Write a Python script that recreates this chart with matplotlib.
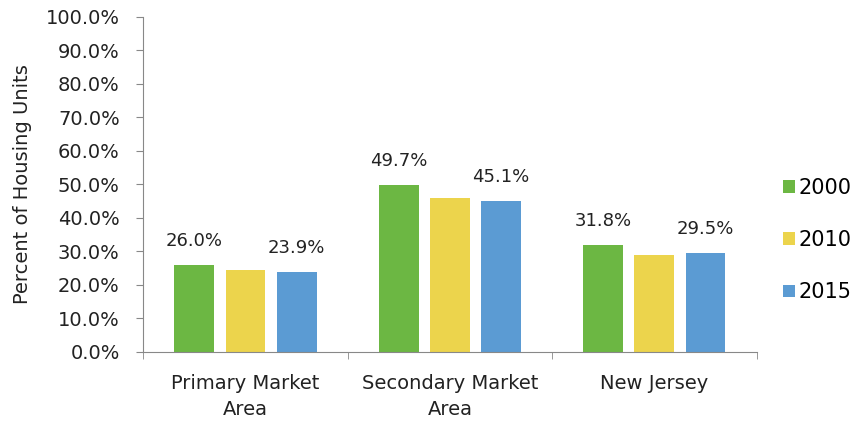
import numpy as np
import matplotlib
matplotlib.use("Agg")
from matplotlib import pyplot as plt

categories = ['Primary Market\nArea', 'Secondary Market\nArea', 'New Jersey']
years = ['2000', '2010', '2015']
v2000 = [26.0, 49.7, 31.8]
v2010 = [24.5, 45.8, 29.0]
v2015 = [23.9, 45.1, 29.5]
colors = ['#6cb743', '#ecd44c', '#5b9bd3']

plt.rcParams['font.family'] = ['DejaVu Sans']

fig = plt.figure(figsize=(8.53, 4.21), dpi=100)
ax = fig.add_axes([0.168, 0.164, 0.719, 0.796])

x = np.arange(len(categories))
w = 0.195
step = 0.25
series = [v2000, v2010, v2015]
for i, (vals, c, yr) in enumerate(zip(series, colors, years)):
    bars = ax.bar(x + (i - 1) * step, vals, width=w, color=c, label=yr)
    if yr != '2010':
        for b, v in zip(bars, vals):
            ax.text(b.get_x() + b.get_width() / 2, v + 4.5, f'{v:.1f}%',
                    ha='center', va='bottom', fontsize=13, color='#222222')

ax.set_xlim(-0.5, 2.5)
ax.set_ylim(0, 100)
ax.set_yticks(np.arange(0, 101, 10))
ax.set_yticklabels([f'{t:.1f}%' for t in np.arange(0, 101, 10)], fontsize=14, color='#222222')
ax.set_xticks(x)
ax.set_xticklabels(categories, fontsize=14, color='#222222', linespacing=1.45)
ax.set_xticks([-0.5, 0.5, 1.5, 2.5], minor=True)
ax.tick_params(axis='x', which='major', length=0, pad=16)
ax.tick_params(axis='x', which='minor', length=5, direction='out', color='#888888')
ax.tick_params(axis='y', length=5, color='#888888', pad=12)
ax.set_ylabel('Percent of Housing Units', fontsize=14, color='#222222', labelpad=10)

for s in ['top', 'right']:
    ax.spines[s].set_visible(False)
ax.spines['left'].set_color('#888888')
ax.spines['bottom'].set_color('#888888')

fig.legend(loc='center left', bbox_to_anchor=(0.918, 0.43), frameon=False,
           fontsize=15, handlelength=0.55, handleheight=0.55, handletextpad=0.2,
           labelspacing=1.55, borderaxespad=0, borderpad=0)

fig.savefig('out.png', dpi=100)
